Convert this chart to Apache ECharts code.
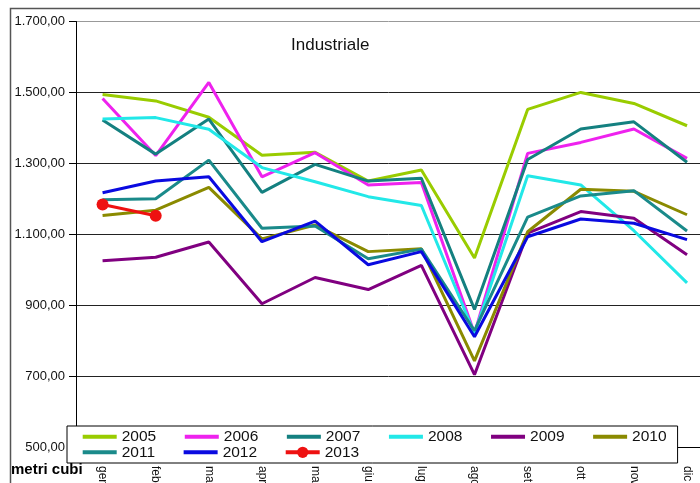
<!DOCTYPE html>
<html>
<head>
<meta charset="utf-8">
<script src="https://cdn.jsdelivr.net/npm/echarts@6/dist/echarts.min.js"></script>
<style>
  html, body { margin: 0; padding: 0; background: #fff; }
  #chart { width: 700px; height: 483px; }
</style>
</head>
<body>
<div id="chart"></div>
<script>
const months = ['gen', 'feb', 'mar', 'apr', 'mag', 'giu', 'lug', 'ago', 'set', 'ott', 'nov', 'dic'];

const y2005 = [1494, 1476, 1430, 1323, 1331, 1250, 1281, 1033, 1452, 1500, 1469, 1406];
const y2006 = [1483, 1322, 1528, 1262, 1330, 1239, 1246, 820, 1328, 1359, 1397, 1314];
const y2007 = [1422, 1326, 1425, 1218, 1297, 1250, 1258, 888, 1311, 1397, 1417, 1303];
const y2008 = [1425, 1429, 1396, 1288, 1248, 1206, 1181, 820, 1265, 1239, 1110, 963];
const y2009 = [1025, 1035, 1078, 904, 978, 944, 1012, 704, 1103, 1164, 1145, 1042];
const y2010 = [1153, 1168, 1232, 1087, 1126, 1051, 1059, 743, 1107, 1227, 1221, 1155];
const y2011 = [1197, 1200, 1309, 1117, 1123, 1031, 1058, 828, 1148, 1208, 1223, 1109];
const y2012 = [1217, 1250, 1262, 1079, 1137, 1014, 1051, 811, 1093, 1143, 1131, 1085];
const y2013 = [1184, 1152];

const yMin = 500;
const yMax = 1700;
const yStep = 200;

const years = ['2005', '2006', '2007', '2008', '2009', '2010', '2011', '2012', '2013'];
const yearData = [y2005, y2006, y2007, y2008, y2009, y2010, y2011, y2012, y2013];
const yearColors = ['#99cc00', '#ee22ee', '#148080', '#22e8e8', '#800080', '#8a8a00', '#1a8a8a', '#0a0ae0', '#ee1111'];

const font = 'Liberation Sans, Arial, sans-serif';

// 1700 -> "1.700,00"
function itNumber(v) {
  const s = String(Math.round(v));
  return s.replace(/\B(?=(\d{3})+(?!\d))/g, '.') + ',00';
}

// legend entries: plain line, only 2013 keeps its marker
function legendItem(name) {
  const item = { name: name, lineStyle: { width: 4 } };
  if (name !== '2013') item.itemStyle = { opacity: 0 };
  return item;
}

const chart = echarts.init(document.getElementById('chart'));

const series = years.map((name, i) => ({
  name: name,
  type: 'line',
  data: yearData[i],
  symbol: name === '2013' ? 'circle' : 'none',
  symbolSize: 12,
  lineStyle: { width: 3, color: yearColors[i] },
  itemStyle: { color: yearColors[i] },
  emphasis: { disabled: true },
  animation: false
}));

const legendText = { fontFamily: font, fontSize: 15.5, color: '#111' };

const option = {
  backgroundColor: '#fff',
  title: [
    {
      text: 'Industriale',
      left: 291,
      top: 37,
      padding: 0,
      textStyle: { fontFamily: font, fontSize: 17, fontWeight: 'normal', color: '#111' }
    },
    {
      text: 'metri cubi',
      left: 11,
      top: 462,
      padding: 0,
      textStyle: { fontFamily: font, fontSize: 15, fontWeight: 'bold', color: '#000' }
    }
  ],
  graphic: [
    {
      type: 'rect',
      shape: { x: 10.5, y: 8.5, width: 1000, height: 1000 },
      style: { fill: null, stroke: '#555', lineWidth: 1.5 },
      silent: true
    }
  ],
  legend: [
    {
      data: years.slice(0, 6).map(legendItem),
      orient: 'horizontal',
      left: 67,
      top: 426,
      padding: [2.7, 11, 18.3, 13.7],
      itemWidth: 34,
      itemHeight: 14,
      itemGap: 26.6,
      backgroundColor: '#fff',
      borderColor: '#000',
      borderWidth: 1,
      textStyle: legendText,
      z: 5
    },
    {
      data: years.slice(6).map(legendItem),
      orient: 'horizontal',
      left: 80.7,
      top: 444.3,
      padding: 0,
      itemWidth: 34,
      itemHeight: 14,
      itemGap: 26.6,
      textStyle: legendText,
      z: 6
    }
  ],
  grid: {
    left: 76,
    top: 21.5,
    bottom: 36,
    right: -13.6,
    outerBoundsMode: 'none'
  },
  xAxis: {
    type: 'category',
    data: months,
    boundaryGap: true,
    axisLine: { lineStyle: { color: '#000', width: 1 } },
    axisTick: { show: false },
    axisLabel: {
      rotate: -90,
      margin: 19,
      fontFamily: font,
      fontSize: 12,
      color: '#111'
    },
    splitLine: { show: false }
  },
  yAxis: {
    type: 'value',
    min: yMin,
    max: yMax,
    interval: yStep,
    axisLine: { show: true, lineStyle: { color: '#000', width: 1 } },
    axisTick: { show: true, length: 7, lineStyle: { color: '#000' } },
    axisLabel: {
      margin: 11,
      fontFamily: font,
      fontSize: 13,
      color: '#111',
      formatter: itNumber
    },
    splitLine: {
      show: true,
      lineStyle: { color: ['#222', '#222', '#222', '#222', '#222', '#222', '#999'], width: 1 }
    }
  },
  series: series
};

chart.setOption(option);
</script>
</body>
</html>
